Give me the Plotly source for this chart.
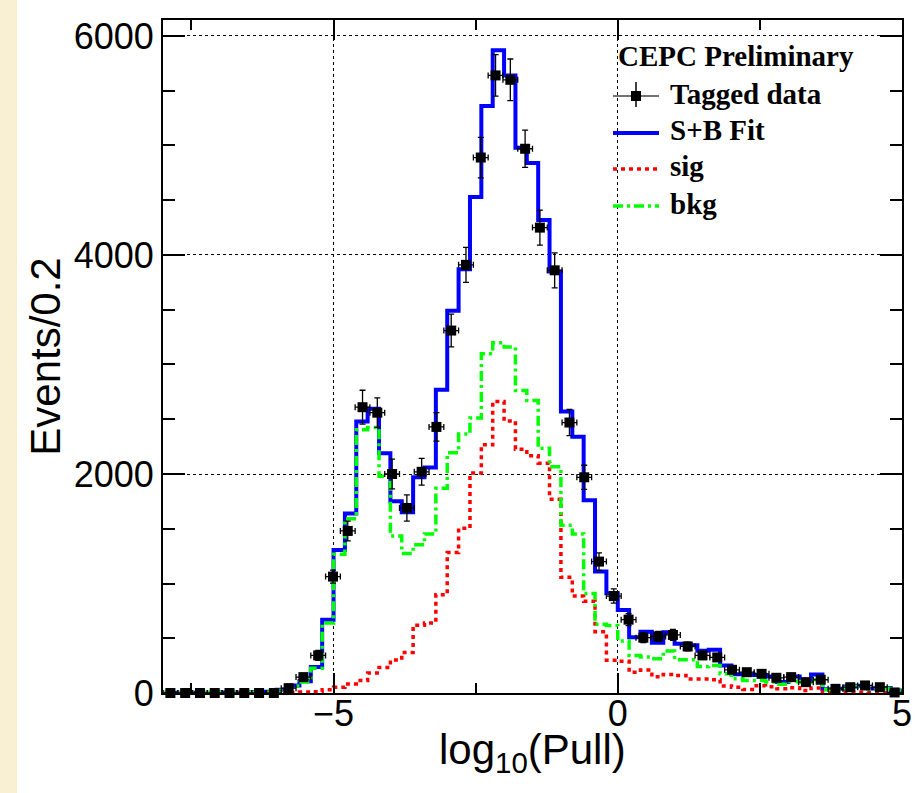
import numpy as np
import plotly.graph_objects as go

# ---------------- data ----------------
# Fit templates: 65 bins of width 0.2 on [-8, 5]
fit_lo, fit_hi, fit_nbins = -8.0, 5.0, 65

fit_total = [3, 3, 3, 3, 3, 4, 4, 5, 6, 12,
             29, 69, 108, 238, 670, 1305, 1640, 2480, 2595, 2190,
             1750, 1650, 1970, 2060, 2770, 3490, 3870, 4530, 5360, 5870,
             5640, 4980, 4840, 4320, 3850, 2570, 2340, 1760, 1110, 910,
             758, 510, 560, 460, 555, 450, 435, 386, 395, 252,
             172, 168, 165, 150, 100, 150, 122, 168, 35, 38,
             59, 66, 40, 46, 22]

sig = [0, 0, 0, 0, 0, 0, 0, 0, 1, 2,
       3, 5, 8, 12, 30, 52, 83, 115, 183, 234,
       302, 369, 619, 639, 897, 1282, 1504, 2008, 2266, 2663,
       2484, 2226, 2167, 2099, 1770, 1056, 885, 837, 560, 300,
       290, 190, 210, 148, 170, 160, 128, 128, 122, 65,
       52, 32, 66, 58, 38, 48, 22, 46, 3, 5,
       8, 6, 5, 5, 3]

bkg = [3, 3, 3, 3, 3, 4, 4, 5, 5, 10,
       26, 64, 100, 226, 640, 1266, 1591, 2405, 2425, 1980,
       1433, 1274, 1353, 1452, 1869, 2194, 2365, 2512, 3099, 3198,
       3159, 2762, 2671, 2234, 2067, 1532, 1452, 909, 627, 617,
       474, 343, 328, 313, 383, 304, 304, 242, 252, 176,
       130, 114, 114, 100, 80, 105, 95, 120, 33, 33,
       50, 60, 36, 40, 18]

# Tagged data: 50 bins of width 0.26 on [-8, 5]
data_nbins = 50
data_y = [0, 0, 0, 0, 0, 0, 0, 0, 44, 145,
          343, 1063, 1480, 2610, 2560, 2000, 1690, 2020, 2430, 3310,
          3910, 4890, 5640, 5600, 4970, 4250, 3860, 2470, 1970, 1200,
          885, 670, 505, 517, 530, 425, 343, 325, 212, 190,
          175, 139, 145, 99, 121, 38, 53, 69, 53, 5]
data_err = [0, 0, 0, 0, 0, 0, 0, 0, 15, 30,
            45, 60, 90, 155, 135, 135, 120, 122, 130, 150,
            160, 185, 190, 190, 170, 160, 160, 120, 110, 80,
            65, 55, 45, 45, 50, 40, 35, 35, 25, 25,
            25, 20, 20, 18, 18, 12, 12, 14, 12, 5]

x_ticks = [-5, 0, 5]
x_tick_text = ["\u22125", "0", "5"]
y_ticks = [0, 2000, 4000, 6000]

# ---------------- derived binning ----------------
fit_edges = np.linspace(fit_lo, fit_hi, fit_nbins + 1)
data_edges = np.linspace(fit_lo, fit_hi, data_nbins + 1)
data_x = 0.5 * (data_edges[:-1] + data_edges[1:])
data_halfw = 0.5 * (data_edges[1] - data_edges[0])


def step(vals):
    return list(vals) + [vals[-1]]


fig = go.Figure()

fig.add_trace(go.Scatter(x=fit_edges, y=step(fit_total), mode="lines",
                         line=dict(shape="hv", color="#0000ff", width=4),
                         name="S+B Fit", showlegend=False))
fig.add_trace(go.Scatter(x=fit_edges, y=step(sig), mode="lines",
                         line=dict(shape="hv", color="#ff0000", width=3.5, dash="4px,4px"),
                         name="sig", showlegend=False))
fig.add_trace(go.Scatter(x=fit_edges, y=step(bkg), mode="lines",
                         line=dict(shape="hv", color="#00ff00", width=3.5, dash="10px,4px,3px,4px"),
                         name="bkg", showlegend=False))
fig.add_trace(go.Scatter(x=data_x, y=data_y, mode="markers",
                         marker=dict(symbol="square", size=10, color="black"),
                         error_y=dict(type="data", array=data_err, color="black", thickness=1.3, width=3),
                         error_x=dict(type="constant", value=data_halfw, color="black", thickness=1.3, width=3),
                         cliponaxis=False, name="Tagged data", showlegend=False))

# ---------------- layout ----------------
L, R, T, B = 163, 14, 20, 100
W, H = 916, 793
PW, PH = W - L - R, H - T - B


def px(xp):
    return (xp - L) / PW


def py(yp):
    return (H - B - yp) / PH


axis_common = dict(ticks="inside", tickcolor="black", tickwidth=1.5,
                   showline=True, linewidth=2, linecolor="black", mirror="ticks",
                   showgrid=True, gridcolor="black", griddash="dot", gridwidth=1,
                   zeroline=False, automargin=False,
                   tickfont=dict(family="Liberation Sans", size=36, color="black"))

fig.update_xaxes(range=[fit_lo, fit_hi], tickmode="array", tickvals=x_ticks,
                 ticktext=x_tick_text, ticklen=20, ticklabelstandoff=-12,
                 minor=dict(dtick=2.5, tick0=0, ticks="inside", ticklen=10, tickwidth=1.5,
                            tickcolor="black", showgrid=False),
                 **axis_common)
fig.update_yaxes(range=[0, 6146], tickmode="array", tickvals=y_ticks, ticklen=22,
                 minor=dict(dtick=500, tick0=0, ticks="inside", ticklen=12, tickwidth=1.5,
                            tickcolor="black", showgrid=False),
                 title=dict(text="Events/0.2", standoff=0,
                            font=dict(family="Liberation Sans", size=42, color="black")),
                 **axis_common)

shapes = []
# beige strip at left edge of the page
shapes.append(dict(type="rect", xref="paper", yref="paper", x0=px(0), x1=px(17),
                   y0=py(H + 5), y1=py(-5), fillcolor="#f9efd2", line=dict(width=0),
                   layer="below"))

# manual legend (ROOT-style)
lx0, lx1 = 613, 659
shapes.append(dict(type="line", xref="paper", yref="paper", x0=px(lx0), x1=px(lx1),
                   y0=py(96), y1=py(96), line=dict(color="#444444", width=1.5)))
shapes.append(dict(type="line", xref="paper", yref="paper", x0=px(636), x1=px(636),
                   y0=py(82), y1=py(107), line=dict(color="black", width=1.5)))
shapes.append(dict(type="rect", xref="paper", yref="paper", x0=px(631), x1=px(641),
                   y0=py(91), y1=py(101), fillcolor="black", line=dict(width=0)))
shapes.append(dict(type="line", xref="paper", yref="paper", x0=px(lx0), x1=px(lx1),
                   y0=py(133), y1=py(133), line=dict(color="#0000ff", width=4)))
shapes.append(dict(type="line", xref="paper", yref="paper", x0=px(lx0), x1=px(lx1),
                   y0=py(169), y1=py(169), line=dict(color="#ff0000", width=3.5, dash="4px,4px")))
shapes.append(dict(type="line", xref="paper", yref="paper", x0=px(lx0), x1=px(lx1),
                   y0=py(206), y1=py(206),
                   line=dict(color="#00ff00", width=3.5, dash="10px,4px,3px,4px")))

leg_font = dict(family="Liberation Serif", size=29, color="black")
annotations = [
    dict(text="<b>CEPC Preliminary</b>", x=px(616), y=py(56)),
    dict(text="<b>Tagged data</b>", x=px(668), y=py(94)),
    dict(text="<b>S+B Fit</b>", x=px(668), y=py(130)),
    dict(text="<b>sig</b>", x=px(668), y=py(166)),
    dict(text="<b>bkg</b>", x=px(668), y=py(204)),
]
for a in annotations:
    a.update(xref="paper", yref="paper", xanchor="left", yanchor="middle",
             showarrow=False, font=leg_font)

# x-axis title (placed as text below the tick labels)
annotations.append(dict(text="log<sub>10</sub>(Pull)", x=0.5, y=py(724),
                        xref="paper", yref="paper", xanchor="center", yanchor="top",
                        showarrow=False,
                        font=dict(family="Liberation Sans", size=42, color="black")))

fig.update_layout(width=W, height=H, margin=dict(l=L, r=R, t=T, b=B, autoexpand=False),
                  paper_bgcolor="white", plot_bgcolor="white",
                  shapes=shapes, annotations=annotations, showlegend=False)

fig.write_html("out.html", config={"displayModeBar": False})

# remove the default page margin so the figure sits at the window's top-left corner
with open("out.html", "r", encoding="utf-8") as f:
    html = f.read()
html = html.replace("<head>", "<head><style>html,body{margin:0;padding:0;overflow:hidden;}</style>", 1)
with open("out.html", "w", encoding="utf-8") as f:
    f.write(html)
